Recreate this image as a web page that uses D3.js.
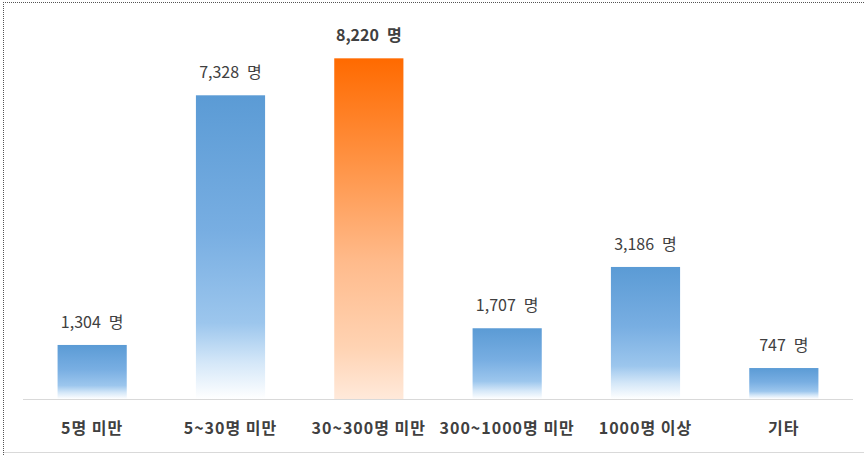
<!DOCTYPE html>
<html>
<head>
<meta charset="utf-8">
<script src="https://cdn.jsdelivr.net/npm/d3@7"></script>
<style>
  html, body { margin: 0; padding: 0; background: #fff; }
  svg { display: block; }
  text { font-family: "Noto Sans CJK KR", "Noto Sans", sans-serif; }
</style>
</head>
<body>
<svg id="chart" width="864" height="455"></svg>
<script>
const categories = ["5명 미만", "5~30명 미만", "30~300명 미만", "300~1000명 미만", "1000명 이상", "기타"];
const values = [1304, 7328, 8220, 1707, 3186, 747];
const highlighted = [false, false, true, false, false, false];
const unit = "명";

const W = 864, H = 455;
const baseY = 399;
const svg = d3.select("#chart");

// frame
svg.append("line").attr("x1", 3).attr("x2", W).attr("y1", 2.5).attr("y2", 2.5)
  .attr("stroke", "#555").attr("stroke-dasharray", "1,1");
svg.append("line").attr("x1", 3.5).attr("x2", 3.5).attr("y1", 2).attr("y2", H)
  .attr("stroke", "#555").attr("stroke-dasharray", "1,1");
svg.append("line").attr("x1", 4).attr("x2", W).attr("y1", 452.5).attr("y2", 452.5)
  .attr("stroke", "#d9d9d9");

const x = d3.scaleBand().domain(categories).range([23, 853]).paddingInner(0.5).paddingOuter(0.25);
const y = d3.scaleLinear().domain([0, 9000]).range([baseY, 26]);

const defs = svg.append("defs");
const blue = defs.append("linearGradient").attr("id", "gBlue").attr("x1", 0).attr("y1", 0).attr("x2", 0).attr("y2", 1);
[[0, "#5b9bd5"], [0.45, "#78aee2"], [0.75, "#9cc6ed"], [0.88, "#d4e7f8"], [1, "#ffffff"]]
  .forEach(([o, c]) => blue.append("stop").attr("offset", o).attr("stop-color", c));
const orange = defs.append("linearGradient").attr("id", "gOrange").attr("x1", 0).attr("y1", 0).attr("x2", 0).attr("y2", 1);
[[0, "#ff6a00"], [0.3, "#ff9243"], [0.6, "#ffbb8c"], [0.85, "#ffd3b3"], [1, "#ffe9da"]]
  .forEach(([o, c]) => orange.append("stop").attr("offset", o).attr("stop-color", c));

// bars
svg.append("g").selectAll("rect").data(categories).join("rect")
  .attr("x", d => x(d))
  .attr("width", x.bandwidth())
  .attr("y", (d, i) => y(values[i]))
  .attr("height", (d, i) => baseY - y(values[i]))
  .attr("fill", (d, i) => highlighted[i] ? "url(#gOrange)" : "url(#gBlue)");

// axis
const axis = svg.append("g").attr("transform", `translate(0,${baseY})`)
  .call(d3.axisBottom(x).tickSize(0).tickPadding(0));
axis.select(".domain").attr("stroke", "#d9d9d9").attr("d", "M23,0.5H853");
axis.selectAll(".tick text")
  .attr("y", 35)
  .attr("dy", 0)
  .attr("fill", "#404040")
  .attr("font-size", 16)
  .attr("font-weight", 700)
  .attr("letter-spacing", 1)
  .style("font-family", '"Noto Sans CJK KR", sans-serif');

// value labels
const fmt = d3.format(",");
const lab = svg.append("g").selectAll("text").data(categories).join("text")
  .attr("x", d => x(d) + x.bandwidth() / 2)
  .attr("y", (d, i) => y(values[i]) - 17)
  .attr("text-anchor", "middle")
  .attr("font-size", 16)
  .attr("font-weight", (d, i) => highlighted[i] ? 700 : 400)
  .attr("fill", "#404040");
lab.append("tspan").text((d, i) => fmt(values[i]));
lab.append("tspan").attr("dx", 8).text(unit);
</script>
</body>
</html>
